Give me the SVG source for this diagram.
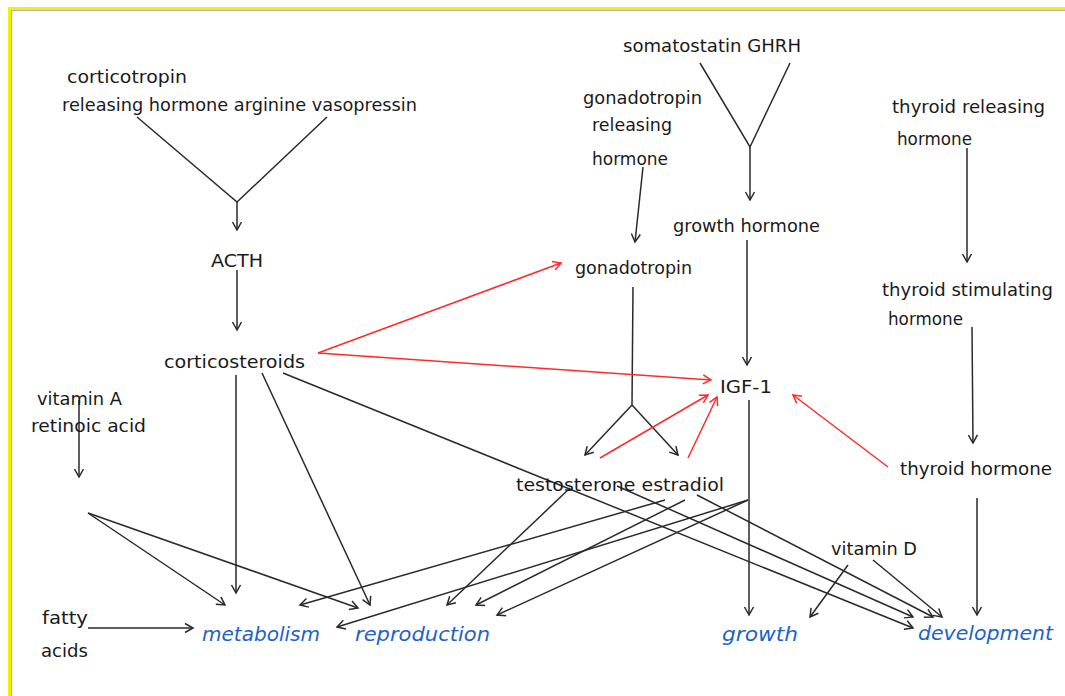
<svg xmlns="http://www.w3.org/2000/svg" width="1065" height="696" viewBox="0 0 1065 696">
<defs>
<style>
text{font-family:"DejaVu Sans","Liberation Sans",sans-serif;font-size:18px;fill:#1a1a1a}
.out{font-style:italic;font-size:20px;fill:#1e62c8}
.k{stroke:#2a2a2a;stroke-width:1.5;fill:none}
.r{stroke:#ff2b2b;stroke-width:1.5;fill:none}
.ka{marker-end:url(#ah)}
.ra{marker-end:url(#rh)}
</style>
<marker id="ah" viewBox="-10 -6 12 12" refX="0" refY="0" markerWidth="12" markerHeight="12" markerUnits="userSpaceOnUse" orient="auto"><path d="M-8,-4.5 L0,0 L-8,4.5" fill="none" stroke="#2a2a2a" stroke-width="1.5"/></marker>
<marker id="rh" viewBox="-10 -6 12 12" refX="0" refY="0" markerWidth="12" markerHeight="12" markerUnits="userSpaceOnUse" orient="auto"><path d="M-8,-4.5 L0,0 L-8,4.5" fill="none" stroke="#ff2b2b" stroke-width="1.5"/></marker>
</defs>
<rect width="1065" height="696" fill="#ffffff"/>
<g id="frame">
<rect x="9.5" y="8.5" width="1100" height="800" fill="none" stroke="#f2f200" stroke-width="3"/>
<rect x="11.5" y="10.5" width="1100" height="800" fill="none" stroke="#b0b0b0" stroke-width="1"/>
</g>
<g id="connectors">
<path class="k" d="M137,117 L237,202 L327,117"/>
<line class="k ka" x1="237" y1="202" x2="237" y2="230"/>
<line class="k ka" x1="237" y1="270" x2="237" y2="330"/>
<line class="k ka" x1="236" y1="375" x2="236" y2="593"/>
<line class="k ka" x1="262" y1="373" x2="370" y2="605"/>
<line class="k ka" x1="283" y1="373" x2="913" y2="628"/>
<line class="k ka" x1="79" y1="400" x2="79" y2="477"/>
<line class="k ka" x1="88" y1="513" x2="225" y2="605"/>
<line class="k ka" x1="88" y1="513" x2="358" y2="608"/>
<line class="k ka" x1="88" y1="628" x2="193" y2="628"/>
<path class="k" d="M700,63 L750,147 L790,63"/>
<line class="k ka" x1="750" y1="147" x2="750" y2="200"/>
<line class="k ka" x1="643" y1="167" x2="635" y2="242"/>
<line class="k" x1="633" y1="287" x2="632" y2="405"/>
<line class="k ka" x1="632" y1="405" x2="585" y2="455"/>
<line class="k ka" x1="632" y1="405" x2="678" y2="455"/>
<line class="k ka" x1="747" y1="240" x2="747" y2="365"/>
<line class="k ka" x1="749" y1="400" x2="749" y2="615"/>
<line class="k ka" x1="967" y1="148" x2="967" y2="262"/>
<line class="k ka" x1="972" y1="327" x2="973" y2="443"/>
<line class="k ka" x1="977" y1="498" x2="977" y2="615"/>
<line class="k ka" x1="848" y1="565" x2="810" y2="617"/>
<line class="k ka" x1="873" y1="560" x2="942" y2="617"/>
<line class="k ka" x1="617" y1="486" x2="913" y2="617"/>
<line class="k ka" x1="697" y1="495" x2="933" y2="617"/>
<line class="k ka" x1="570" y1="488" x2="447" y2="605"/>
<line class="k ka" x1="665" y1="500" x2="300" y2="605"/>
<line class="k ka" x1="685" y1="500" x2="476" y2="605"/>
<line class="k ka" x1="748" y1="500" x2="337" y2="627"/>
<line class="k ka" x1="748" y1="500" x2="497" y2="615"/>
<line class="r ra" x1="318" y1="353" x2="561" y2="263"/>
<line class="r ra" x1="318" y1="353" x2="711" y2="380"/>
<line class="r ra" x1="600" y1="458" x2="708" y2="395"/>
<line class="r ra" x1="688" y1="458" x2="717" y2="397"/>
<line class="r ra" x1="888" y1="467" x2="793" y2="395"/>
</g>
<g id="crh-avp">
<text x="67" y="83" textLength="120" lengthAdjust="spacingAndGlyphs">corticotropin</text>
<text x="62" y="111" textLength="355" lengthAdjust="spacingAndGlyphs">releasing hormone arginine vasopressin</text>
</g>
<g id="acth"><text x="211" y="267" textLength="52" lengthAdjust="spacingAndGlyphs">ACTH</text></g>
<g id="corticosteroids"><text x="164" y="368" textLength="141" lengthAdjust="spacingAndGlyphs">corticosteroids</text></g>
<g id="vitamin-a">
<text x="37" y="405" textLength="85" lengthAdjust="spacingAndGlyphs">vitamin A</text>
<text x="31" y="432" textLength="115" lengthAdjust="spacingAndGlyphs">retinoic acid</text>
</g>
<g id="fatty-acids">
<text x="42" y="624" textLength="46" lengthAdjust="spacingAndGlyphs">fatty</text>
<text x="41" y="657" textLength="47" lengthAdjust="spacingAndGlyphs">acids</text>
</g>
<g id="somatostatin-ghrh"><text x="623" y="52" textLength="178" lengthAdjust="spacingAndGlyphs">somatostatin GHRH</text></g>
<g id="gnrh">
<text x="583" y="104" textLength="119" lengthAdjust="spacingAndGlyphs">gonadotropin</text>
<text x="592" y="131" textLength="80" lengthAdjust="spacingAndGlyphs">releasing</text>
<text x="592" y="165" textLength="76" lengthAdjust="spacingAndGlyphs">hormone</text>
</g>
<g id="growth-hormone"><text x="673" y="232" textLength="147" lengthAdjust="spacingAndGlyphs">growth hormone</text></g>
<g id="gonadotropin"><text x="575" y="274" textLength="117" lengthAdjust="spacingAndGlyphs">gonadotropin</text></g>
<g id="trh">
<text x="892" y="113" textLength="153" lengthAdjust="spacingAndGlyphs">thyroid releasing</text>
<text x="897" y="145" textLength="75" lengthAdjust="spacingAndGlyphs">hormone</text>
</g>
<g id="tsh">
<text x="882" y="296" textLength="171" lengthAdjust="spacingAndGlyphs">thyroid stimulating</text>
<text x="888" y="325" textLength="75" lengthAdjust="spacingAndGlyphs">hormone</text>
</g>
<g id="igf-1"><text x="720" y="393" textLength="52" lengthAdjust="spacingAndGlyphs">IGF-1</text></g>
<g id="testosterone-estradiol"><text x="516" y="491" textLength="208" lengthAdjust="spacingAndGlyphs">testosterone estradiol</text></g>
<g id="thyroid-hormone"><text x="900" y="475" textLength="152" lengthAdjust="spacingAndGlyphs">thyroid hormone</text></g>
<g id="vitamin-d"><text x="831" y="555" textLength="86" lengthAdjust="spacingAndGlyphs">vitamin D</text></g>
<g id="metabolism"><text class="out" x="202" y="641" textLength="118" lengthAdjust="spacingAndGlyphs">metabolism</text></g>
<g id="reproduction"><text class="out" x="355" y="641" textLength="135" lengthAdjust="spacingAndGlyphs">reproduction</text></g>
<g id="growth"><text class="out" x="722" y="641" textLength="76" lengthAdjust="spacingAndGlyphs">growth</text></g>
<g id="development"><text class="out" x="918" y="640" textLength="135" lengthAdjust="spacingAndGlyphs">development</text></g>
</svg>
